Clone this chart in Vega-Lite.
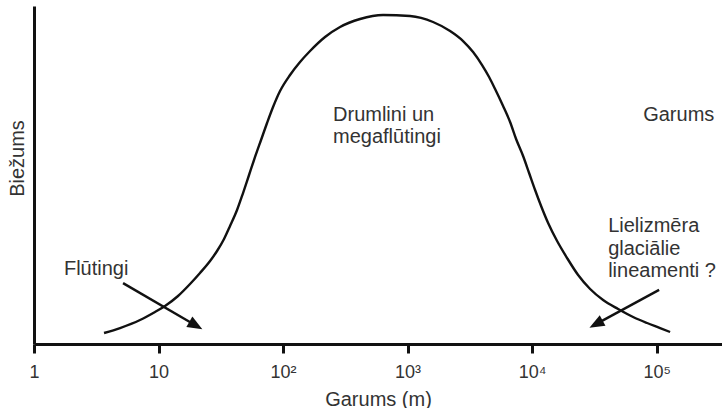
{
  "$schema": "https://vega.github.io/schema/vega-lite/v6.json",
  "width": 688,
  "height": 338,
  "autosize": {"type": "none"},
  "padding": {"left": 34, "top": 6, "right": 0, "bottom": 64},
  "background": "white",
  "config": {
    "view": {"stroke": null},
    "font": "Liberation Sans"
  },
  "datasets": {
    "curve": [
      {"len": 3.65, "freq": 3.25},
      {"len": 4.908, "freq": 4.73},
      {"len": 7.103, "freq": 7.10},
      {"len": 9.374, "freq": 9.47},
      {"len": 11.28, "freq": 11.24},
      {"len": 14.34, "freq": 14.20},
      {"len": 17.91, "freq": 17.75},
      {"len": 21.54, "freq": 21.01},
      {"len": 25.93, "freq": 24.56},
      {"len": 29.51, "freq": 27.51},
      {"len": 33.58, "freq": 31.07},
      {"len": 37.52, "freq": 34.91},
      {"len": 42.71, "freq": 39.64},
      {"len": 47.72, "freq": 44.67},
      {"len": 53.32, "freq": 50.0},
      {"len": 59.58, "freq": 55.33},
      {"len": 66.57, "freq": 60.36},
      {"len": 74.38, "freq": 65.38},
      {"len": 83.11, "freq": 70.12},
      {"len": 94.6, "freq": 74.85},
      {"len": 113.8, "freq": 79.59},
      {"len": 136.9, "freq": 83.43},
      {"len": 164.8, "freq": 86.69},
      {"len": 217.4, "freq": 90.83},
      {"len": 287.0, "freq": 93.79},
      {"len": 415.5, "freq": 96.15},
      {"len": 635.5, "freq": 97.34},
      {"len": 1047, "freq": 97.04},
      {"len": 1602, "freq": 95.27},
      {"len": 2195, "freq": 92.60},
      {"len": 2791, "freq": 89.64},
      {"len": 3358, "freq": 86.39},
      {"len": 3967, "freq": 82.54},
      {"len": 4514, "freq": 78.99},
      {"len": 5044, "freq": 75.44},
      {"len": 5850, "freq": 70.41},
      {"len": 6657, "freq": 65.68},
      {"len": 7437, "freq": 60.65},
      {"len": 8467, "freq": 55.62},
      {"len": 9461, "freq": 50.59},
      {"len": 10570, "freq": 45.56},
      {"len": 11810, "freq": 40.83},
      {"len": 13450, "freq": 35.80},
      {"len": 15880, "freq": 30.47},
      {"len": 19100, "freq": 25.44},
      {"len": 23420, "freq": 20.41},
      {"len": 29240, "freq": 16.27},
      {"len": 37180, "freq": 13.02},
      {"len": 49080, "freq": 10.36},
      {"len": 64740, "freq": 7.99},
      {"len": 83870, "freq": 6.21},
      {"len": 106700, "freq": 4.73},
      {"len": 128300, "freq": 3.55}
    ],
    "arrows": [
      {"arrow": "a", "len": 5.19, "freq": 18.0},
      {"arrow": "a", "len": 19.94, "freq": 5.47},
      {"arrow": "b", "len": 104700, "freq": 16.0},
      {"arrow": "b", "len": 32610, "freq": 5.89}
    ],
    "heads": [
      {"arrow": "a", "len": 19.94, "freq": 5.47},
      {"arrow": "b", "len": 32610, "freq": 5.89}
    ],
    "labels": [
      {"len": 1.74, "freq": 20.4, "text": "Flūtingi"},
      {"len": 252, "freq": 66.0, "text": "Drumlini un\nmegaflūtingi"},
      {"len": 78000, "freq": 66.0, "text": "Garums"},
      {"len": 40800, "freq": 33.1, "text": "Lielizmēra\nglaciālie\nlineamenti ?"}
    ]
  },
  "layer": [
    {
      "data": {"name": "curve"},
      "mark": {"type": "line", "interpolate": "monotone", "color": "#111111", "strokeWidth": 2.4},
      "encoding": {
        "x": {
          "field": "len",
          "type": "quantitative",
          "scale": {"type": "log", "domain": [1, 335000], "nice": false},
          "axis": {
            "title": "Garums (m)",
            "values": [1, 10, 100, 1000, 10000, 100000],
            "labelExpr": "datum.value < 5 ? '1' : datum.value < 50 ? '10' : datum.value < 500 ? '10²' : datum.value < 5000 ? '10³' : datum.value < 50000 ? '10⁴' : '10⁵'",
            "grid": false,
            "domainColor": "#111111",
            "domainWidth": 3,
            "tickColor": "#111111",
            "tickWidth": 3,
            "tickSize": 9,
            "labelFontSize": 18,
            "labelColor": "#333333",
            "labelBaseline": "alphabetic",
            "labelPadding": 24,
            "labelFlush": false,
            "labelOverlap": false,
            "titleFontSize": 20,
            "titleFontWeight": "normal",
            "titleColor": "#333333",
            "titleBaseline": "alphabetic",
            "titleY": 61
          }
        },
        "y": {
          "field": "freq",
          "type": "quantitative",
          "scale": {"domain": [0, 100], "nice": false},
          "axis": {
            "title": "Biežums",
            "ticks": false,
            "labels": false,
            "grid": false,
            "domainColor": "#111111",
            "domainWidth": 3,
            "titleFontSize": 20,
            "titleFontWeight": "normal",
            "titleColor": "#333333",
            "titleAngle": -90,
            "titleAlign": "center",
            "titleBaseline": "alphabetic",
            "titleX": -11,
            "titleY": 152
          }
        }
      }
    },
    {
      "data": {"name": "arrows"},
      "mark": {"type": "line", "color": "#111111", "strokeWidth": 2.4},
      "encoding": {
        "x": {"field": "len", "type": "quantitative"},
        "y": {"field": "freq", "type": "quantitative"},
        "detail": {"field": "arrow"}
      }
    },
    {
      "data": {"name": "heads"},
      "transform": [{"filter": "datum.arrow == 'a'"}],
      "mark": {"type": "point", "shape": "M-1,-0.8L1,0L-1,0.8Z", "filled": true, "color": "#111111", "size": 225, "angle": 30.2, "opacity": 1},
      "encoding": {
        "x": {"field": "len", "type": "quantitative"},
        "y": {"field": "freq", "type": "quantitative"}
      }
    },
    {
      "data": {"name": "heads"},
      "transform": [{"filter": "datum.arrow == 'b'"}],
      "mark": {"type": "point", "shape": "M-1,-0.8L1,0L-1,0.8Z", "filled": true, "color": "#111111", "size": 225, "angle": 151.5, "opacity": 1},
      "encoding": {
        "x": {"field": "len", "type": "quantitative"},
        "y": {"field": "freq", "type": "quantitative"}
      }
    },
    {
      "data": {"name": "labels"},
      "mark": {"type": "text", "align": "left", "baseline": "alphabetic", "lineBreak": "\n", "lineHeight": 22.5, "fontSize": 20, "color": "#333333"},
      "encoding": {
        "x": {"field": "len", "type": "quantitative"},
        "y": {"field": "freq", "type": "quantitative"},
        "text": {"field": "text"}
      }
    }
  ]
}
